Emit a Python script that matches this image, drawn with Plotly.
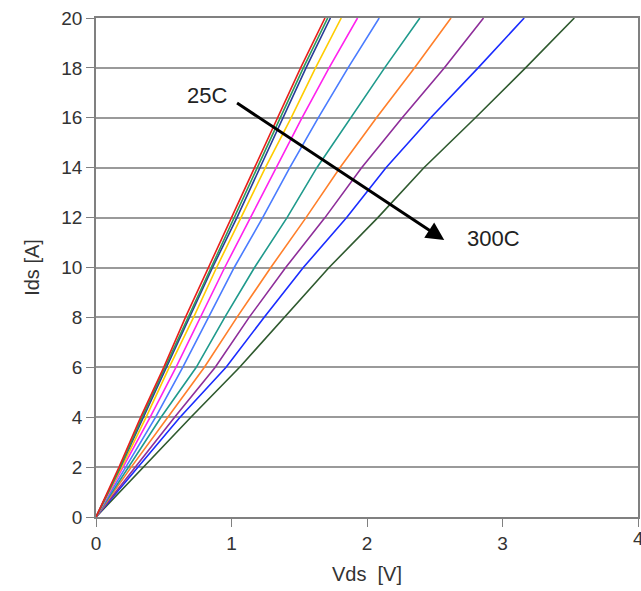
import plotly.graph_objects as go

ids = [0, 2, 4, 6, 8, 10, 12, 14, 16, 18, 20]

vds_red = [0, 0.17, 0.33, 0.50, 0.66, 0.83, 1.00, 1.17, 1.34, 1.51, 1.69]
vds_green = [0, 0.18, 0.34, 0.51, 0.68, 0.85, 1.02, 1.19, 1.36, 1.53, 1.71]
vds_navy = [0, 0.18, 0.35, 0.52, 0.69, 0.86, 1.04, 1.21, 1.38, 1.55, 1.73]
vds_yellow = [0, 0.19, 0.37, 0.54, 0.72, 0.89, 1.07, 1.25, 1.44, 1.62, 1.81]
vds_magenta = [0, 0.20, 0.40, 0.59, 0.77, 0.95, 1.14, 1.33, 1.52, 1.72, 1.93]
vds_lblue = [0, 0.22, 0.44, 0.64, 0.83, 1.02, 1.23, 1.43, 1.64, 1.86, 2.09]
vds_teal = [0, 0.24, 0.48, 0.74, 0.95, 1.17, 1.41, 1.63, 1.88, 2.13, 2.39]
vds_orange = [0, 0.26, 0.53, 0.80, 1.04, 1.29, 1.55, 1.80, 2.07, 2.35, 2.62]
vds_purple = [0, 0.29, 0.58, 0.88, 1.13, 1.40, 1.69, 1.96, 2.26, 2.57, 2.86]
vds_blue = [0, 0.31, 0.62, 0.96, 1.24, 1.53, 1.85, 2.14, 2.47, 2.82, 3.16]
vds_dkgreen = [0, 0.35, 0.70, 1.06, 1.39, 1.72, 2.08, 2.42, 2.80, 3.17, 3.53]

series = [
    (vds_dkgreen, "#2f5a2f"),
    (vds_blue, "#1a2cff"),
    (vds_purple, "#8e2e9a"),
    (vds_orange, "#ff7f2a"),
    (vds_teal, "#1f9a8c"),
    (vds_lblue, "#4a7cff"),
    (vds_magenta, "#ff22ee"),
    (vds_yellow, "#ffcc00"),
    (vds_navy, "#283c9a"),
    (vds_green, "#2e9a5a"),
    (vds_red, "#e8201c"),
]

x_ticks = [0, 1, 2, 3]
x_tick_last = 4
y_ticks = [0, 2, 4, 6, 8, 10, 12, 14, 16, 18, 20]

fig = go.Figure()
for xs, col in series:
    fig.add_trace(go.Scatter(x=xs, y=ids, mode="lines",
                             line=dict(color=col, width=1.6),
                             showlegend=False, hoverinfo="skip"))

fam = "Liberation Sans, Arial, sans-serif"
tickfont = dict(family=fam, size=19, color="#333333")
titlefont = dict(family=fam, size=20, color="#333333")

fig.update_layout(
    width=641, height=591,
    margin=dict(l=96, r=1, t=18, b=74),
    paper_bgcolor="white", plot_bgcolor="white",
    font=tickfont,
    xaxis=dict(range=[0, 4], tickvals=x_ticks + [x_tick_last], ticks="outside", ticklen=8,
               tickcolor="#808080", showgrid=False, zeroline=False, tickfont=tickfont,
               showline=True, linecolor="#808080", linewidth=1.5, mirror=True,
               title=dict(text="Vds  [V]", standoff=14, font=titlefont)),
    yaxis=dict(range=[0, 20], tickvals=y_ticks, ticks="outside", ticklen=8,
               tickcolor="#808080", showgrid=True, gridcolor="#9a9a9a",
               gridwidth=1.5, zeroline=False, tickfont=tickfont,
               showline=True, linecolor="#808080", linewidth=1.5, mirror=True,
               title=dict(text="Ids [A]", standoff=16, font=titlefont)),
    annotations=[
        dict(x=2.57, y=11.1, xref="x", yref="y", ax=1.03, ay=16.63,
             axref="x", ayref="y", showarrow=True, arrowhead=2,
             arrowsize=1.2, arrowwidth=3, arrowcolor="#000000", text=""),
        dict(x=0.82, y=16.9, xref="x", yref="y", text="25C", showarrow=False,
             font=dict(family=fam, size=22, color="#222222")),
        dict(x=2.93, y=11.18, xref="x", yref="y", text="300C", showarrow=False,
             font=dict(family=fam, size=22, color="#222222")),
        dict(x=x_tick_last, y=0, xref="x", yref="paper", text=str(x_tick_last),
             showarrow=False, yanchor="top", yshift=-9, xanchor="center",
             font=tickfont),
    ],
)

fig.write_html("out.html")
